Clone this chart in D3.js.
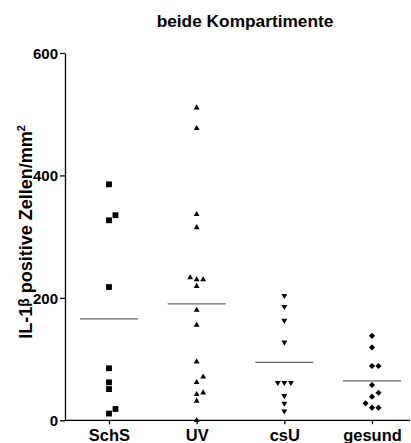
<!DOCTYPE html>
<html lang="en">
<head>
<meta charset="utf-8">
<title>beide Kompartimente</title>
<script src="https://cdn.jsdelivr.net/npm/d3@7"></script>
<style>
  body { margin: 0; background: #fff; }
  text { font-family: "Liberation Sans", Arial, sans-serif; font-weight: bold; fill: #000; }
  .axis path, .axis line { stroke: #000; stroke-width: 1.3px; }
  .mean { stroke: #666; stroke-width: 1.3px; }
</style>
</head>
<body>
<svg width="411" height="443"></svg>
<script>
var categories = ["SchS", "UV", "csU", "gesund"];
var schs   = [385.5, 335, 326.7, 217.7, 85, 62, 51, 18.5, 11];
var uv     = [510.6, 477, 336.5, 315, 230, 230, 233, 219, 180, 155.7, 95.7, 71, 62, 45, 42.5, 31.5, 0];
var csu    = [203.6, 185.6, 163, 127.4, 61.5, 61.5, 61.5, 40, 27.7, 15];
var gesund = [138, 119, 88.7, 88.7, 57.7, 45, 38.6, 27.7, 20.6, 20.6];
var yTicks = [0, 200, 400, 600];

var groups = [schs, uv, csu, gesund];
var symbols = [d3.symbolSquare, d3.symbolTriangle, d3.symbolTriangle, d3.symbolSquare];
var sizes = [34, 15, 15, 19];
var rotate = [0, 0, 180, 45];

var svg = d3.select("svg");

var x = d3.scalePoint().domain(categories).range([109, 372]);
var y = d3.scaleLinear().domain([0, 600]).range([420.3, 53]);

// title
svg.append("text")
  .attr("x", 245).attr("y", 27)
  .attr("text-anchor", "middle")
  .style("font-size", "17.3px")
  .text("beide Kompartimente");

// y axis
var yAxis = svg.append("g")
  .attr("class", "axis")
  .attr("transform", "translate(65,0)")
  .call(d3.axisLeft(y).tickValues(yTicks).tickSize(5).tickSizeOuter(0).tickPadding(2));
yAxis.selectAll(".tick text").style("font-size", "15px").attr("dy", "0.36em");

// x axis
var xAxis = svg.append("g")
  .attr("class", "axis")
  .attr("transform", "translate(0,420.3)")
  .call(d3.axisBottom(x).tickSize(4).tickSizeOuter(0).tickPadding(2));
xAxis.select(".domain").attr("d", "M65,0H410");
xAxis.selectAll(".tick text").attr("y", 20.5).attr("dy", null).style("font-size", "16.5px");

// y label
var yl = svg.append("text")
  .attr("transform", "translate(32,232) rotate(-90)")
  .attr("text-anchor", "middle")
  .style("font-size", "18px");
yl.append("tspan").text("IL-1");
yl.append("tspan").attr("dy", "-3").style("font-size", "14px").text("\u03b2");
yl.append("tspan").attr("dy", "3").text(" positive Zellen/mm");
yl.append("tspan").attr("dy", "-7").style("font-size", "11px").text("2");

// simple column dodge for overlapping points
var step = 6.5, gap = 6.5;
function dodge(values) {
  var placed = [];
  values.slice().sort(function(a, b) { return a - b; }).forEach(function(v) {
    var py = y(v);
    var slots = [0, 1, -1, 2, -2];
    for (var i = 0; i < slots.length; i++) {
      var s = slots[i];
      var hit = placed.some(function(p) { return p.s === s && Math.abs(p.py - py) < gap; });
      if (!hit) { placed.push({ v: v, py: py, s: s }); break; }
    }
  });
  return placed;
}

groups.forEach(function(vals, gi) {
  var cx = x(categories[gi]);
  var pts = dodge(vals);
  var sym = d3.symbol().type(symbols[gi]).size(sizes[gi]);
  svg.append("g").selectAll("path")
    .data(pts)
    .enter().append("path")
    .attr("d", sym)
    .attr("fill", "#000")
    .attr("transform", function(d) {
      return "translate(" + (cx + d.s * step) + "," + d.py + ") rotate(" + rotate[gi] + ")";
    });

  var m = d3.mean(vals);
  svg.append("line")
    .attr("class", "mean")
    .attr("x1", cx - 29).attr("x2", cx + 29)
    .attr("y1", y(m)).attr("y2", y(m));
});
</script>
</body>
</html>
